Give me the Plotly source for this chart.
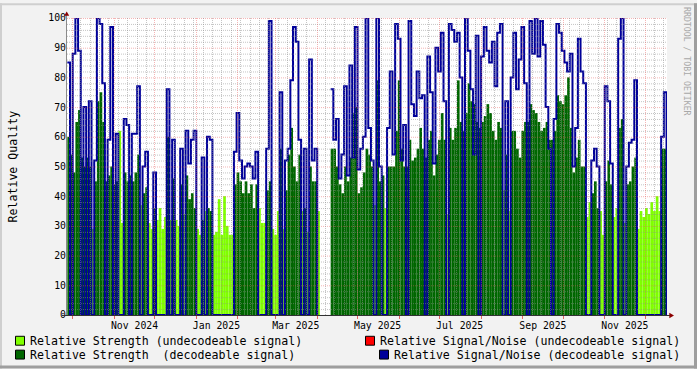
import plotly.graph_objects as go
import pandas as pd

# ---------------- data (2-day buckets starting 2024-09-27) ----------------
# decodeable: 1 = decodeable signal (dark green), 0 = undecodeable (light green), None = no data
decodeable = [
    1, 1, 1, 1, 1, 1, 1, 1, 1, 0,
    1, 1, 1, 1, 1, 1, 1, 1, 1, 0,
    0, 1, 1, 1, 1, 1, 1, 0, 1, 1,
    0, 0, 1, 0, 0, 0, 0, 1, 0, 1,
    0, 0, 1, 0, 1, 1, 1, 1, 0, 0,
    1, 0, 1, 1, 0, 0, 0, 0, 0, 0,
    0, 0, 1, 1, 1, 1, 1, 1, 1, 1,
    1, 0, 0, 0, 1, 1, 0, 0, 0, 1,
    0, 1, 1, 1, 1, 1, 1, 0, 1, 0,
    1, 1, 1, 0, None, None, None, None, 1, 1,
    1, 1, 1, 1, 1, 1, 1, 1, 1, 1,
    1, 1, 1, 1, 0, 1, 1, 1, 0, 1,
    1, 1, 1, 1, 1, 1, 1, 1, 1, 1,
    1, 1, 1, 1, 1, 1, 1, 1, 1, 1,
    1, 0, 1, 1, 1, 1, 1, 1, 1, 1,
    1, 1, 1, 1, 1, 1, 1, 1, 1, 1,
    1, 1, 0, 1, 0, 1, 1, 1, 1, 1,
    1, 1, 1, 1, 1, 1, 1, 1, 1, 1,
    1, 1, 1, 1, 1, 1, 1, 1, 1, 1,
    1, 1, 1, 0, 0, 1, 1, 1, 0, 0,
    1, 1, 1, 0, 0, 1, 1, 0, 1, 1,
    1, 1, 0, 0, 0, 0, 0, 0, 0, 0,
    0, 1, 1,
]

# relative strength (%)
strength = [
    60, 54, 48, 65, 69, 53, 50, 53, 50, 29,
    45, 72, 75, 65, 45, 47, 50, 44, 45, 62,
    31, 48, 45, 47, 45, 48, 54, 37, 41, 43,
    31, 29, 36, 32, 36, 29, 33, 60, 32, 46,
    32, 30, 44, 34, 47, 39, 41, 36, 29, 27,
    32, 35, 36, 35, 27, 28, 39, 27, 40, 30,
    27, 27, 44, 48, 45, 41, 45, 41, 44, 36,
    44, 36, 31, 31, 42, 45, 29, 27, 35, 56,
    29, 42, 54, 63, 50, 45, 54, 35, 36, 28,
    50, 45, 45, 35, None, None, None, None, 56, 56,
    50, 44, 41, 50, 45, 53, 68, 70, 41, 43,
    48, 56, 54, 50, 37, 79, 45, 47, 36, 50,
    50, 50, 62, 79, 56, 50, 50, 59, 52, 53,
    56, 63, 56, 53, 59, 62, 47, 54, 59, 68,
    59, 34, 63, 59, 63, 79, 65, 62, 68, 78,
    72, 71, 65, 63, 65, 67, 71, 68, 62, 59,
    65, 63, 42, 54, 35, 62, 62, 56, 53, 62,
    65, 65, 71, 69, 68, 65, 62, 63, 65, 59,
    59, 62, 74, 72, 71, 74, 80, 63, 48, 53,
    59, 50, 50, 33, 38, 41, 45, 36, 35, 27,
    45, 52, 44, 33, 36, 63, 66, 31, 44, 45,
    50, 53, 29, 35, 33, 36, 34, 38, 35, 40,
    35, 56, 56,
]

# relative signal/noise of decodeable signal (%)
snr = [
    85, 0, 88, 100, 89, 0, 70, 0, 72, 0,
    52, 100, 98, 78, 0, 59, 97, 0, 61, 0,
    0, 66, 64, 0, 61, 61, 77, 0, 50, 55,
    0, 0, 48, 0, 0, 0, 0, 76, 0, 59,
    0, 0, 56, 0, 62, 51, 59, 62, 0, 0,
    53, 0, 60, 59, 0, 0, 0, 0, 0, 0,
    0, 0, 55, 68, 52, 46, 50, 51, 50, 46,
    55, 0, 0, 0, 56, 99, 0, 0, 0, 75,
    0, 52, 56, 79, 97, 92, 59, 0, 56, 0,
    86, 52, 56, 0, None, None, None, None, 76, 59,
    66, 46, 54, 77, 47, 84, 53, 97, 49, 56,
    60, 100, 63, 52, 0, 100, 50, 0, 0, 63,
    82, 54, 98, 93, 52, 64, 0, 99, 71, 67,
    82, 73, 74, 0, 87, 75, 51, 90, 82, 95,
    72, 0, 98, 96, 92, 95, 80, 0, 100, 89,
    76, 54, 94, 0, 87, 97, 89, 85, 92, 77,
    95, 98, 0, 72, 0, 80, 95, 76, 86, 97,
    78, 0, 99, 88, 100, 87, 99, 91, 70, 56,
    0, 66, 98, 95, 89, 85, 82, 88, 50, 63,
    93, 82, 78, 0, 0, 52, 56, 50, 0, 0,
    77, 72, 51, 0, 0, 93, 100, 0, 50, 58,
    59, 79, 0, 0, 0, 0, 0, 0, 0, 0,
    0, 60, 75,
]

tick_labels = ["Nov 2024", "Jan 2025", "Mar 2025", "May 2025", "Jul 2025", "Sep 2025", "Nov 2025"]
tick_months = ["2024-11-01", "2025-01-01", "2025-03-01", "2025-05-01", "2025-07-01", "2025-09-01", "2025-11-01"]

legend_items = [
    ("Relative Strength (undecodeable signal)", "#80FF00"),
    ("Relative Strength  (decodeable signal)", "#006600"),
    ("Relative Signal/Noise (undecodeable signal)", "#FF0000"),
    ("Relative Signal/Noise (decodeable signal)", "#000099"),
]

# ---------------- styling / geometry ----------------
LIGHT, DARK, BLUE = "#80FF00", "#006600", "#000099"
FONT = "DejaVu Sans Mono"
W, H = 697, 369
PL, PR, PT, PB = 67, 667, 15, 315
PX_PER_DAY = 1.3435
x_start = pd.Timestamp("2024-10-01") - pd.Timedelta(days=(72.7 - PL) / PX_PER_DAY)
x_end = x_start + pd.Timedelta(days=(PR - PL) / PX_PER_DAY)


def fx(px):
    return (px - PL) / (PR - PL)


def fy(py):
    return (PB - py) / (PB - PT)


def xpix(t):
    return PL + (pd.Timestamp(t) - x_start) / pd.Timedelta(days=1) * PX_PER_DAY


bucket_days = 2
first_bucket = pd.Timestamp("2024-09-27")
starts = [first_bucket + pd.Timedelta(days=bucket_days * i) for i in range(len(strength))]
end = starts[-1] + pd.Timedelta(days=bucket_days)

light_vals = [s if d == 0 else None for s, d in zip(strength, decodeable)]
dark_vals = [s if d == 1 else None for s, d in zip(strength, decodeable)]

fig = go.Figure()
bw = bucket_days * 86400000
fig.add_bar(x=starts, y=light_vals, width=bw, offset=0,
            marker=dict(color=LIGHT, line=dict(width=0)), name=legend_items[0][0])
fig.add_bar(x=starts, y=dark_vals, width=bw, offset=0,
            marker=dict(color=DARK, line=dict(width=0)), name=legend_items[1][0])
fig.add_scatter(x=starts + [end], y=snr + [0], mode="lines",
                line=dict(color=BLUE, width=2, shape="hv"), connectgaps=False,
                name=legend_items[3][0])

shapes = []
MINOR = "rgba(140,140,140,0.5)"
MAJOR = "rgba(230,90,90,0.45)"

# horizontal grid
for v in range(2, 101, 2):
    ypx = PB - v * 3 + 0.5
    shapes.append(dict(type="line", xref="paper", yref="paper", x0=0, x1=1,
                       y0=fy(ypx), y1=fy(ypx), layer="above",
                       line=dict(color=MAJOR if v % 10 == 0 else MINOR, width=1, dash="1px,1px")))

month_starts = list(pd.date_range("2024-10-01", "2025-12-01", freq="MS"))
month_px = [int(xpix(m)) + 0.5 for m in month_starts]

# vertical weekly (minor) grid
t = pd.Timestamp("2024-09-30")
while t < x_end:
    xp = int(xpix(t)) + 0.5
    if xp > PL + 1 and min(abs(xp - mp) for mp in month_px) > 2:
        shapes.append(dict(type="line", xref="paper", yref="paper", x0=fx(xp), x1=fx(xp),
                           y0=0, y1=1, layer="above",
                           line=dict(color=MINOR, width=1, dash="1px,1px")))
    t += pd.Timedelta(days=7)

# vertical monthly (major) grid + red ticks
for xp in month_px:
    shapes.append(dict(type="line", xref="paper", yref="paper", x0=fx(xp), x1=fx(xp),
                       y0=0, y1=1, layer="above",
                       line=dict(color=MAJOR, width=1, dash="1px,1px")))
    shapes.append(dict(type="line", xref="paper", yref="paper", x0=fx(xp), x1=fx(xp),
                       y0=fy(PB + 1), y1=fy(PB + 4), layer="above",
                       line=dict(color="rgba(222,60,60,0.8)", width=1)))

# axes lines
shapes.append(dict(type="line", xref="paper", yref="paper", x0=fx(66.5), x1=fx(66.5),
                   y0=fy(PB + 0.5), y1=fy(12), layer="above", line=dict(color="#8A8A8A", width=1)))
shapes.append(dict(type="line", xref="paper", yref="paper", x0=fx(62), x1=fx(670),
                   y0=fy(PB + 0.5), y1=fy(PB + 0.5), layer="above", line=dict(color="#303030", width=1)))
# arrows
shapes.append(dict(type="path", xref="paper", yref="paper", layer="above",
                   path=f"M {fx(64.2)},{fy(12.8)} L {fx(69.2)},{fy(12.8)} L {fx(66.7)},{fy(8.5)} Z",
                   fillcolor="#8B0000", line=dict(width=0)))
shapes.append(dict(type="path", xref="paper", yref="paper", layer="above",
                   path=f"M {fx(669.3)},{fy(312.8)} L {fx(669.3)},{fy(318.2)} L {fx(674)},{fy(315.5)} Z",
                   fillcolor="#8B0000", line=dict(width=0)))

# image border shading
shapes += [
    dict(type="rect", xref="paper", yref="paper", x0=fx(0), x1=fx(W), y0=fy(0), y1=fy(2),
         fillcolor="#CFCFCF", line=dict(width=0), layer="above"),
    dict(type="rect", xref="paper", yref="paper", x0=fx(0), x1=fx(2), y0=fy(0), y1=fy(H),
         fillcolor="#CFCFCF", line=dict(width=0), layer="above"),
    dict(type="rect", xref="paper", yref="paper", x0=fx(0), x1=fx(W), y0=fy(H - 3), y1=fy(H),
         fillcolor="#9E9E9E", line=dict(width=0), layer="above"),
    dict(type="rect", xref="paper", yref="paper", x0=fx(W - 3), x1=fx(W), y0=fy(0), y1=fy(H),
         fillcolor="#9E9E9E", line=dict(width=0), layer="above"),
]

# legend (RRDtool style)
annotations = []
legend_pos = [(15, 341, 30), (15, 355, 30), (365, 341, 380), (379, 355, 394)]
for (label, color), (bx, cy, tx) in zip(legend_items, legend_pos):
    shapes.append(dict(type="rect", xref="paper", yref="paper",
                       x0=fx(bx + 0.5), x1=fx(bx + 9.5), y0=fy(cy - 4.5), y1=fy(cy + 4.5),
                       fillcolor=color, line=dict(color="#000000", width=1), layer="above"))
    annotations.append(dict(text=label, xref="paper", yref="paper", x=fx(tx - 2.5), y=fy(cy),
                            xanchor="left", yanchor="middle", showarrow=False,
                            font=dict(family=FONT, size=11.6, color="#000000")))

annotations.append(dict(text="Relative Quality", xref="paper", yref="paper", x=fx(12), y=fy(165),
                        textangle=-90, xanchor="center", yanchor="middle", showarrow=False,
                        font=dict(family=FONT, size=11.6, color="#000000")))
annotations.append(dict(text="RRDTOOL / TOBI OETIKER", xref="paper", yref="paper", x=fx(687.5), y=fy(59),
                        textangle=90, xanchor="center", yanchor="middle", showarrow=False,
                        font=dict(family=FONT, size=8.2, color="#A8A8A8")))

label_dates = [pd.Timestamp(m) + pd.Timedelta(days=15) for m in tick_months]

fig.update_layout(
    width=W, height=H,
    margin=dict(l=PL, r=W - PR, t=PT, b=H - PB),
    paper_bgcolor="#F2F2F2", plot_bgcolor="#FFFFFF",
    barmode="overlay", showlegend=False,
    shapes=shapes, annotations=annotations,
    font=dict(family=FONT, color="#000000"),
    xaxis=dict(type="date", range=[x_start, x_end], tickmode="array", tickvals=label_dates,
               ticktext=tick_labels, showgrid=False, zeroline=False, showline=False,
               ticks="", ticklabelstandoff=3,
               tickfont=dict(family=FONT, size=9.8, color="#000000"), fixedrange=True),
    yaxis=dict(range=[0, 100], tickmode="array", tickvals=list(range(0, 101, 10)),
               showgrid=False, zeroline=False, showline=False, ticks="",
               tickfont=dict(family=FONT, size=9.8, color="#000000"), fixedrange=True),
)

fig.write_html("out.html")
